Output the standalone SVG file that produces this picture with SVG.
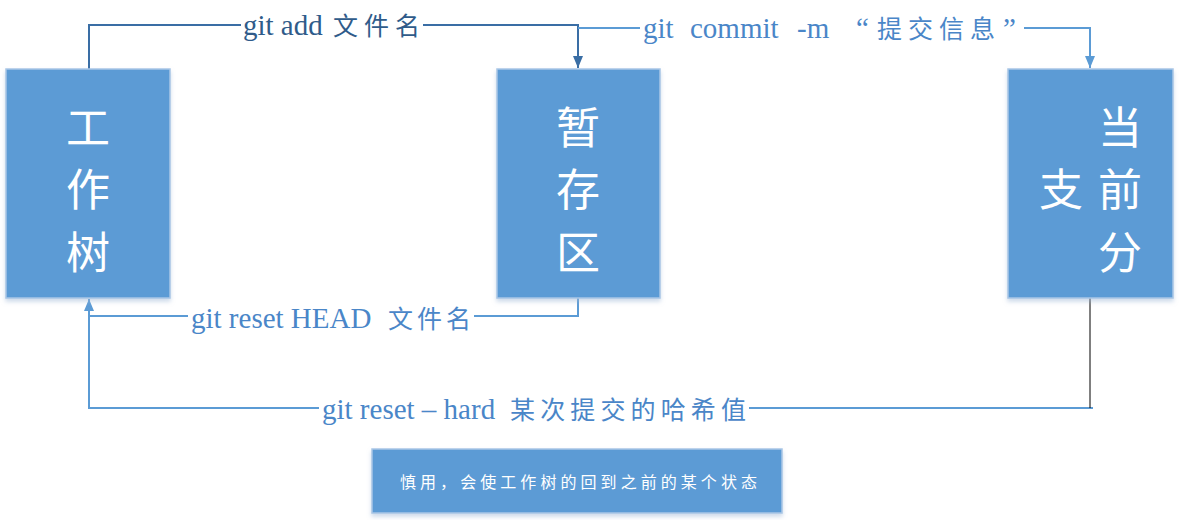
<svg xmlns="http://www.w3.org/2000/svg" width="1180" height="523" viewBox="0 0 1180 523">
<defs>
<style>
.box{fill:#5b9bd5;stroke:#a9c6e6;stroke-width:1.5}
.big{font-family:"Noto Sans CJK SC","Noto Sans CJK JP",sans-serif;font-size:44px;fill:#ffffff;text-anchor:middle}
.lbl{font-family:"Liberation Serif","Noto Sans CJK SC",serif;font-size:29px;fill:#4a86c8}
.cjk{font-family:"Noto Sans CJK SC",sans-serif;font-size:25px}
.ln{fill:none;stroke:#5b9bd5;stroke-width:2}
.note{font-family:"Noto Sans CJK SC",sans-serif;font-size:16px;fill:#ffffff}
</style>
<marker id="ahd" viewBox="0 0 10 12" refX="5" refY="12" markerWidth="10" markerHeight="12" markerUnits="userSpaceOnUse" orient="0">
<path d="M0,0 L10,0 L5,12 Z" fill="#3a6ea5"/>
</marker>
<marker id="ahl" viewBox="0 0 10 12" refX="5" refY="12" markerWidth="10" markerHeight="12" markerUnits="userSpaceOnUse" orient="0">
<path d="M0,0 L10,0 L5,12 Z" fill="#5b9bd5"/>
</marker>
<marker id="ahu" viewBox="0 0 10 12" refX="5" refY="0" markerWidth="10" markerHeight="12" markerUnits="userSpaceOnUse" orient="0">
<path d="M0,12 L10,12 L5,0 Z" fill="#5b9bd5"/>
</marker>
<filter id="sh" x="-10%" y="-10%" width="120%" height="120%">
<feDropShadow dx="0" dy="3" stdDeviation="2" flood-color="#9fb8d6" flood-opacity="0.5"/>
</filter>
</defs>
<rect width="1180" height="523" fill="#ffffff"/>
<g id="connectors">
<polyline class="ln" points="89,69 89,25 578,25 578,68" style="stroke:#3a6ea5" marker-end="url(#ahd)"/>
<polyline class="ln" points="578,28 1090,28 1090,68" marker-end="url(#ahl)"/>
<polyline class="ln" points="578,298 578,316 89,316 89,299" marker-end="url(#ahu)"/>
<polyline class="ln" points="1093,408 89,408 89,316"/>
<line x1="1090" y1="298" x2="1090" y2="408" stroke="#000000" stroke-width="1"/>
<rect x="241" y="10" width="182" height="32" fill="#ffffff"/>
<text class="lbl" x="243" y="35" style="fill:#2f5b8a">git add <tspan class="cjk" x="333" textLength="87" lengthAdjust="spacing">文件名</tspan></text>
<rect x="640" y="13" width="384" height="32" fill="#ffffff"/>
<text class="lbl" y="38"><tspan x="643">git</tspan><tspan x="690">commit</tspan><tspan x="797">-m</tspan><tspan x="856">“</tspan><tspan class="cjk" x="877" textLength="118" lengthAdjust="spacing">提交信息</tspan><tspan x="1003">”</tspan></text>
<rect x="188" y="302" width="286" height="32" fill="#ffffff"/>
<text class="lbl" x="191" y="328">git reset HEAD <tspan class="cjk" x="388" textLength="83" lengthAdjust="spacing">文件名</tspan></text>
<rect x="319" y="393" width="430" height="32" fill="#ffffff"/>
<text class="lbl" x="322" y="419">git reset – hard <tspan class="cjk" x="510" textLength="236" lengthAdjust="spacing">某次提交的哈希值</tspan></text>
</g>
<g id="node-worktree">
<rect class="box" x="6" y="69" width="164" height="229" filter="url(#sh)"/>
<text class="big" x="88" y="144">工</text>
<text class="big" x="88" y="206">作</text>
<text class="big" x="88" y="269">树</text>
</g>
<g id="node-stage">
<rect class="box" x="497" y="69" width="163" height="229" filter="url(#sh)"/>
<text class="big" x="578" y="144">暂</text>
<text class="big" x="578" y="206">存</text>
<text class="big" x="578" y="269">区</text>
</g>
<g id="node-branch">
<rect class="box" x="1008" y="69" width="165" height="229" filter="url(#sh)"/>
<text class="big" x="1120" y="144">当</text>
<text class="big" x="1120" y="206">前</text>
<text class="big" x="1120" y="269">分</text>
<text class="big" x="1061" y="206">支</text>
</g>
<g id="node-note">
<rect class="box" x="372" y="449" width="410" height="64" filter="url(#sh)"/>
<text class="note" x="400" y="488" textLength="357" lengthAdjust="spacing">慎用，会使工作树的回到之前的某个状态</text>
</g>
</svg>
